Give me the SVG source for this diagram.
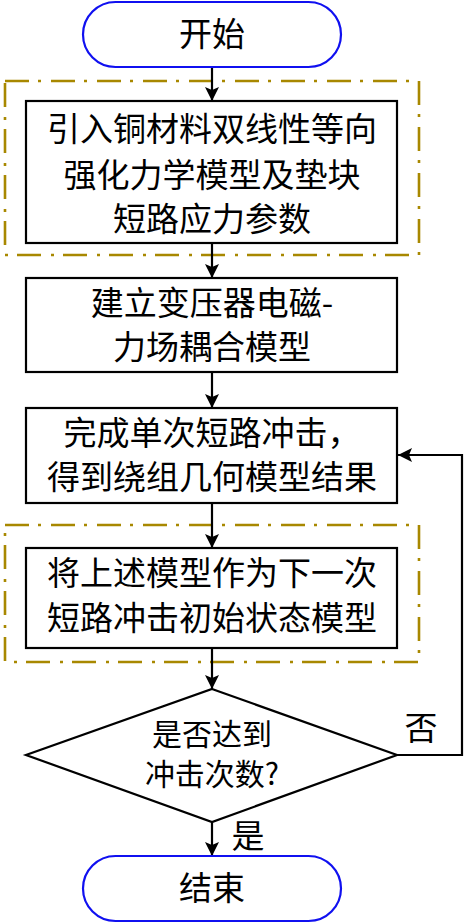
<svg xmlns="http://www.w3.org/2000/svg" width="464" height="924" viewBox="0 0 464 924">
<style>
.t{font-family:"Noto Sans CJK SC","Noto Sans CJK JP",sans-serif;font-size:33px;fill:#000;text-anchor:middle}
.s{font-size:30px}
.box{fill:#fff;stroke:#000;stroke-width:2.2}
.term{fill:#fff;stroke:#1010f0;stroke-width:2.2}
.grp{fill:none;stroke:#a88800;stroke-width:2.6;stroke-dasharray:24 9 3 10}
.c{fill:none;stroke:#000;stroke-width:2.2}
</style>
<defs>
<marker id="ah" viewBox="0 0 14 14" refX="14" refY="7" markerWidth="14" markerHeight="14" markerUnits="userSpaceOnUse" orient="auto">
<path d="M0,0 L14,7 L0,14 L3,7 Z" fill="#000"/>
</marker>
</defs>
<rect width="464" height="924" fill="#fff"/>
<g id="group1"><rect class="grp" x="5" y="81" width="414" height="174"/></g>
<g id="group2"><rect class="grp" x="5" y="525" width="414" height="137"/></g>
<g id="connectors">
<line class="c" x1="212" y1="67" x2="212" y2="101" marker-end="url(#ah)"/>
<line class="c" x1="212" y1="243" x2="212" y2="278" marker-end="url(#ah)"/>
<line class="c" x1="212" y1="372" x2="212" y2="408" marker-end="url(#ah)"/>
<line class="c" x1="212" y1="503" x2="212" y2="548" marker-end="url(#ah)"/>
<line class="c" x1="212" y1="648" x2="212" y2="689" marker-end="url(#ah)"/>
<line class="c" x1="212" y1="822" x2="212" y2="856" marker-end="url(#ah)"/>
<polyline class="c" points="397,755 462,755 462,455 398,455" marker-end="url(#ah)"/>
<text class="t" x="421" y="740">否</text>
<text class="t" x="248" y="848">是</text>
</g>
<g id="start">
<rect class="term" x="83" y="2" width="258" height="65" rx="32.5"/>
<text class="t" x="212" y="46">开始</text>
</g>
<g id="step1">
<rect class="box" x="26" y="101" width="371" height="142"/>
<text class="t" x="212" y="141">引入铜材料双线性等向</text>
<text class="t" x="212" y="187">强化力学模型及垫块</text>
<text class="t" x="212" y="231">短路应力参数</text>
</g>
<g id="step2">
<rect class="box" x="26" y="278" width="371" height="94"/>
<text class="t" x="212" y="315">建立变压器电磁-</text>
<text class="t" x="212" y="359">力场耦合模型</text>
</g>
<g id="step3">
<rect class="box" x="26" y="408" width="371" height="95"/>
<text class="t" x="212" y="445">完成单次短路冲击，</text>
<text class="t" x="212" y="489">得到绕组几何模型结果</text>
</g>
<g id="step4">
<rect class="box" x="26" y="548" width="371" height="100"/>
<text class="t" x="212" y="585">将上述模型作为下一次</text>
<text class="t" x="212" y="630">短路冲击初始状态模型</text>
</g>
<g id="decision">
<polygon class="box" points="212,689 397,755 212,822 26,755"/>
<text class="t s" x="212" y="745">是否达到</text>
<text class="t s" x="212" y="785">冲击次数?</text>
</g>
<g id="end">
<rect class="term" x="83" y="856" width="258" height="65" rx="32.5"/>
<text class="t" x="212" y="900">结束</text>
</g>
</svg>
